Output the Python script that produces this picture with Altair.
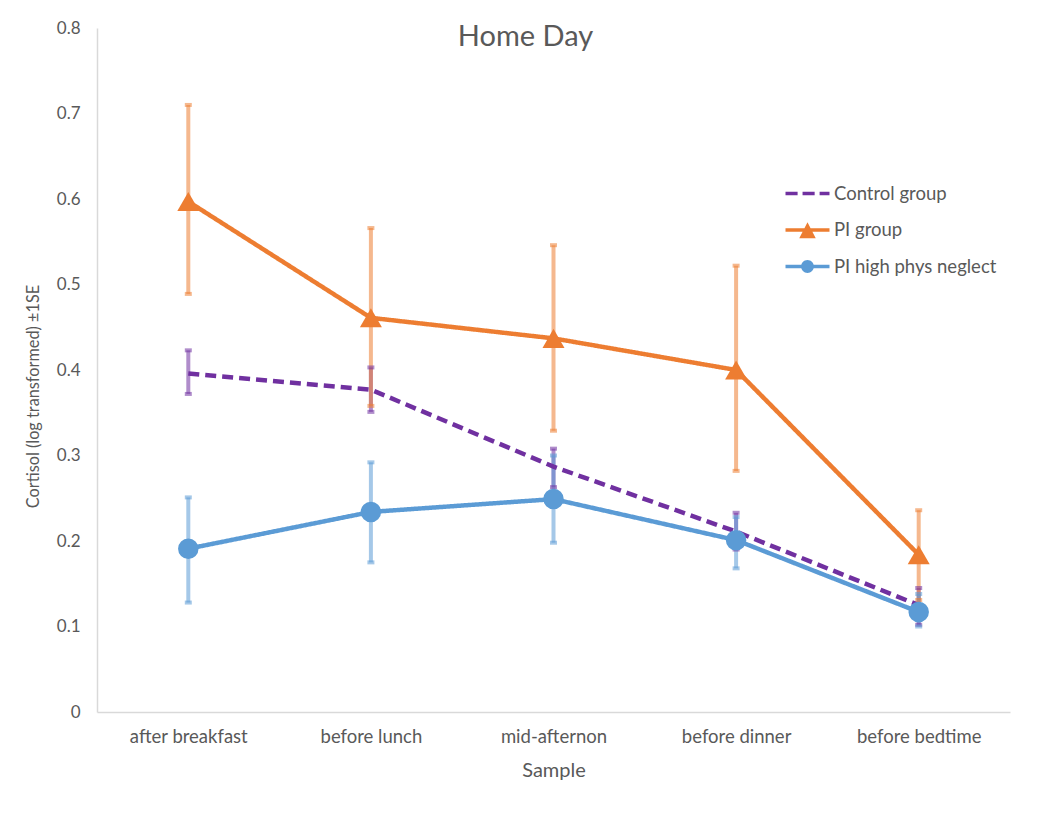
import altair as alt
import pandas as pd

samples = ["after breakfast", "before lunch", "mid-afternon", "before dinner", "before bedtime"]
series_names = ["Control group", "PI group", "PI high phys neglect"]
line_colors = ["#7030A0", "#ED7D31", "#5B9BD5"]

control_mean = [0.396, 0.377, 0.287, 0.211, 0.125]
control_lo = [0.372, 0.351, 0.263, 0.190, 0.102]
control_hi = [0.423, 0.403, 0.308, 0.233, 0.145]

pi_mean = [0.597, 0.461, 0.437, 0.400, 0.184]
pi_lo = [0.489, 0.358, 0.329, 0.282, 0.131]
pi_hi = [0.710, 0.566, 0.546, 0.522, 0.236]

neglect_mean = [0.191, 0.234, 0.249, 0.201, 0.117]
neglect_lo = [0.128, 0.175, 0.198, 0.168, 0.100]
neglect_hi = [0.251, 0.292, 0.300, 0.228, 0.138]

# legend symbols (custom SVG paths, unit coordinates)
legend_paths = [
    "M-1.2,-0.1H-0.54V0.1H-1.2Z M-0.27,-0.1H0.39V0.1H-0.27Z M0.66,-0.1H1.2V0.1H0.66Z",
    "M-1.2,-0.1H1.2V0.1H-1.2Z M-0.45,0.45L0,-0.42L0.45,0.45Z",
    "M-1.2,-0.1H1.2V0.1H-1.2Z M0.35,0A0.35,0.35,0,1,1,-0.35,0A0.35,0.35,0,1,1,0.35,0Z",
]

rows = []
for name, color, means, los, his in zip(
    series_names,
    line_colors,
    [control_mean, pi_mean, neglect_mean],
    [control_lo, pi_lo, neglect_lo],
    [control_hi, pi_hi, neglect_hi],
):
    for s, m, lo, hi in zip(samples, means, los, his):
        rows.append(dict(series=name, sample=s, mean=m, lo=lo, hi=hi, lineColor=color))
df = pd.DataFrame(rows)

FONT = "Lato"
GREY = "#595959"

x_enc = alt.X(
    "sample:N",
    sort=samples,
    scale=alt.Scale(type="point", padding=0.5),
    axis=alt.Axis(
        title="Sample",
        labelAngle=0,
        ticks=False,
        labelPadding=15,
        domainColor="#D9D9D9",
        domainWidth=1.5,
        labelFontSize=18.5,
        labelColor=GREY,
        labelFont=FONT,
        titleFont=FONT,
        titleFontSize=20,
        titleFontWeight="normal",
        titleColor=GREY,
        titleY=58,
        titleBaseline="middle",
    ),
)

y_scale = alt.Scale(domain=[0, 0.8], nice=False, zero=True)
y_axis = alt.Axis(
    title="Cortisol (log transformed) ±1SE",
    values=[0, 0.1, 0.2, 0.3, 0.4, 0.5, 0.6, 0.7, 0.8],
    labelExpr="datum.value == 0 ? '0' : format(datum.value, '.1f')",
    grid=False,
    ticks=False,
    labelPadding=17,
    domainColor="#D9D9D9",
    domainWidth=1.5,
    labelFontSize=17,
    labelColor=GREY,
    labelFont=FONT,
    titleFont=FONT,
    titleFontSize=16.3,
    titleFontWeight="normal",
    titleColor=GREY,
    titleX=-64,
    titleY=368,
    titleBaseline="middle",
)

base = alt.Chart(df)
lc = alt.Color("lineColor:N", scale=None)

legend_props = dict(
    title=None,
    orient="none",
    legendX=692,
    legendY=147,
    labelFontSize=18.5,
    labelColor=GREY,
    labelFont=FONT,
    labelLimit=0,
    symbolSize=1344,
    symbolOpacity=1,
    symbolStrokeWidth=0,
    rowPadding=8.5,
    labelOffset=8,
)

# legend-only layer: no data rows survive the filter, the legend comes from the scale domain
legend_layer = (
    base.transform_filter("false")
    .mark_point(filled=True, opacity=1, size=1344, strokeWidth=0)
    .encode(
        x=x_enc,
        y=alt.Y("mean:Q", scale=y_scale, axis=y_axis),
        color=alt.Color(
            "series:N",
            scale=alt.Scale(domain=series_names, range=line_colors),
            legend=alt.Legend(**legend_props),
        ),
        shape=alt.Shape(
            "series:N",
            scale=alt.Scale(domain=series_names, range=legend_paths),
            legend=alt.Legend(**legend_props),
        ),
    )
)

errs = base.mark_rule(strokeWidth=4, strokeOpacity=0.55).encode(
    x=x_enc, y=alt.Y("lo:Q", scale=y_scale, axis=y_axis), y2="hi:Q", color=lc
)
caps_lo = base.mark_tick(size=7, thickness=4, fillOpacity=0.55).encode(
    x=x_enc, y=alt.Y("lo:Q", scale=y_scale), color=lc
)
caps_hi = base.mark_tick(size=7, thickness=4, fillOpacity=0.55).encode(
    x=x_enc, y=alt.Y("hi:Q", scale=y_scale), color=lc
)

lines = base.mark_line(strokeWidth=4.5).encode(
    x=x_enc,
    y=alt.Y("mean:Q", scale=y_scale),
    color=lc,
    detail="series:N",
    strokeDash=alt.StrokeDash(
        "series:N",
        scale=alt.Scale(domain=series_names, range=[[11, 6], [1, 0], [1, 0]]),
        legend=None,
    ),
)

tri = base.transform_filter(alt.datum.series == "PI group").mark_point(
    shape="triangle-up", filled=True, opacity=1, size=484, strokeWidth=0
).encode(x=x_enc, y=alt.Y("mean:Q", scale=y_scale), color=lc)

circ = base.transform_filter(alt.datum.series == "PI high phys neglect").mark_point(
    shape="circle", filled=True, opacity=1, size=420, strokeWidth=0
).encode(x=x_enc, y=alt.Y("mean:Q", scale=y_scale), color=lc)

chart = (
    alt.layer(legend_layer, errs, caps_lo, caps_hi, lines, tri, circ)
    .properties(
        width=913,
        height=684,
        title=alt.TitleParams(
            "Home Day",
            fontSize=29,
            color=GREY,
            font=FONT,
            fontWeight="normal",
            offset=-33,
            anchor="middle",
            dx=-28,
        ),
        padding={"left": 89, "top": 20, "right": 30, "bottom": 90},
        autosize="none",
    )
    .configure(font=FONT)
    .configure_view(strokeWidth=0, stroke="transparent")
)

chart.save("out.html", embed_options={"renderer": "svg", "actions": False})
